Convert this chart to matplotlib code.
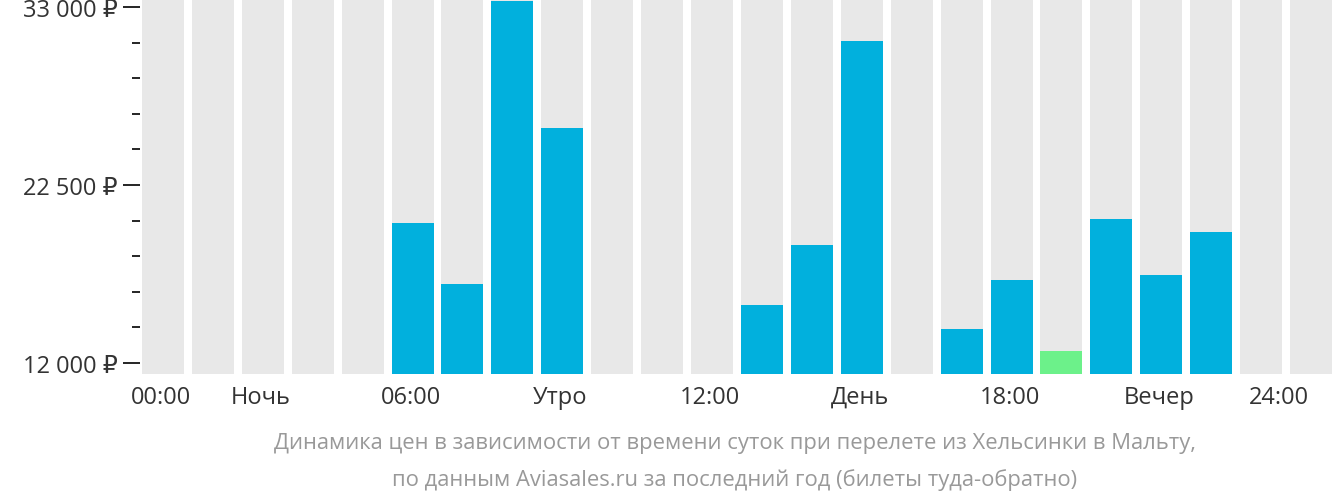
import matplotlib
matplotlib.use("Agg")
import matplotlib.pyplot as plt
import numpy as np

hours = list(range(24))
prices = [None, None, None, None, None, 20260, 16660, 33360, 25860, None, None, None,
          15420, 18960, 31000, None, 14000, 16900, 12700, 20500, 17190, 19730, None, None]
cheapest = 18
tick_slots = [0, 2, 5, 8, 11, 14, 17, 20, 23]
tick_labels = ["00:00", "Ночь", "06:00", "Утро", "12:00", "День", "18:00", "Вечер", "24:00"]
y_major = [12000, 22500, 33000]
y_labels = ["12 000 ₽", "22 500 ₽", "33 000 ₽"]

plt.rcParams["font.family"] = ["Open Sans", "DejaVu Sans"]
fig = plt.figure(figsize=(13.32, 5.02), dpi=100)
ax = fig.add_axes([140 / 1332, 1 - 375 / 502, 1 - 140 / 1332, 375 / 502])

ymin, ymax = 11350, 33475
ax.set_xlim(-0.04, 23.84)
ax.set_ylim(ymin, ymax)
w = 0.84
for h in hours:
    ax.bar(h, ymax - ymin, bottom=ymin, width=w, align="edge", color="#e8e8e8", lw=0)
    p = prices[h]
    if p is not None:
        c = "#6cf18a" if h == cheapest else "#01b0dd"
        ax.bar(h, p - ymin, bottom=ymin, width=w, align="edge", color=c, lw=0)

for s in ax.spines.values():
    s.set_visible(False)
ax.set_yticks(y_major)
ax.set_yticklabels(y_labels, fontsize=17, color="#333333")
ax.set_yticks(np.arange(12000, 33001, 2100), minor=True)
ax.tick_params(axis="y", which="major", length=12, width=1.2, pad=4)
ax.tick_params(axis="y", which="minor", length=6, width=1.2)
ax.set_xticks([t + 0.38 for t in tick_slots])
ax.set_xticklabels(tick_labels, fontsize=17, color="#333333")
ax.get_xticklabels()[-1].set_horizontalalignment("right")
ax.get_xticklabels()[-1].set_x(23.84)
ax.tick_params(axis="x", length=0, pad=8)
lbl = ax.get_xticklabels()
lbl[-1].set_ha("right")

fig.text(735 / 1332, 1 - 444 / 502, "Динамика цен в зависимости от времени суток при перелете из Хельсинки в Мальту,",
         ha="center", va="center", fontsize=15.8, color="#999999")
fig.text(735 / 1332, 1 - 480 / 502, "по данным Aviasales.ru за последний год (билеты туда-обратно)",
         ha="center", va="center", fontsize=15.8, color="#999999")

fig.savefig("out.png", dpi=100)
